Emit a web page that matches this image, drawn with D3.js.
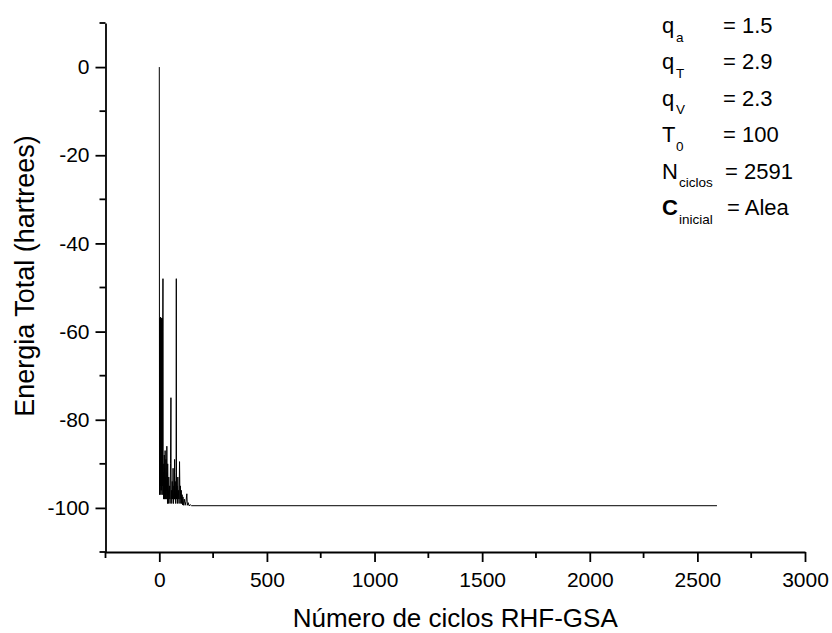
<!DOCTYPE html>
<html>
<head>
<meta charset="utf-8">
<script src="https://cdn.jsdelivr.net/npm/d3@7/dist/d3.min.js"></script>
<style>
  html, body { margin: 0; padding: 0; background: #fff; }
  svg { display: block; font-family: "Liberation Sans", Arial, sans-serif; }
</style>
</head>
<body>
<svg id="chart" width="832" height="633"></svg>
<script>
// Total energy per RHF-GSA cycle
const cycles = [
  0, 1, 2, 3, 4, 5, 6, 7, 8, 9, 10, 11, 12, 13, 14, 15, 16, 17, 18, 19, 20,
  21, 22, 23, 24, 25, 26, 27, 28, 29, 30, 31, 32, 33, 34, 35, 36, 37, 38, 39, 40,
  42, 44, 46, 48, 50, 52, 54, 55, 56, 58, 60, 62, 64, 66, 68, 70, 71, 72, 74, 76,
  78, 79, 80, 82, 84, 86, 88, 90, 92, 94, 96, 98, 100, 102, 104, 106, 108, 110,
  112, 116, 120, 124, 128, 130, 134, 138, 145, 150, 2591
];
const energy = [
  0, -97, -57, -96, -57, -95, -56.7, -97, -57, -94, -57, -96, -58, -97, -57, -95, -60, -48, -97, -92, -98,
  -90, -97, -88, -98, -91, -96, -87, -98, -93, -97, -89, -98, -94, -96, -86, -98, -92, -99, -90, -97,
  -99, -93, -98, -95, -99, -90, -75, -98, -96, -99, -94, -98, -91, -99, -95, -98, -89, -98, -94, -99,
  -92, -48, -98, -95, -99, -93, -98, -96, -99, -89.5, -98, -95, -99, -96, -99, -97, -99.3, -97.5,
  -99.4, -98, -99.4, -98.5, -96.8, -99.4, -98.8, -99.5, -99.3, -99.5, -99.5
];

// Axis ticks
const xMajorTicks = [0, 500, 1000, 1500, 2000, 2500, 3000];
const xMinorTicks = [-250, 250, 750, 1250, 1750, 2250, 2750];
const yMajorTicks = [0, -20, -40, -60, -80, -100];
const yMinorTicks = [10, -10, -30, -50, -70, -90, -110];

// Run parameters shown in the corner
const paramSymbols = ["q", "q", "q", "T", "N", "C"];
const paramSubscripts = ["a", "T", "V", "0", "ciclos", "inicial"];
const paramValues = ["= 1.5", "= 2.9", "= 2.3", "= 100", "= 2591", "= Alea"];

const xLabel = "Número de ciclos RHF-GSA";
const yLabel = "Energia Total (hartrees)";

const svg = d3.select("#chart");
const plot = { left: 105.5, right: 805, top: 23, bottom: 552 };

const x = d3.scaleLinear().domain([-250, 3000]).range([plot.left, plot.right]);
const y = d3.scaleLinear().domain([-110, 10]).range([plot.bottom, plot.top]);

const axisColor = "#000";
const fmt = d => String(d); // plain hyphen-minus for negatives

// X axis: major ticks with labels, minor ticks without
const gx = svg.append("g").attr("transform", `translate(0,${plot.bottom})`);
gx.call(d3.axisBottom(x).tickValues(xMajorTicks).tickSize(10).tickSizeOuter(0).tickFormat(fmt));
gx.selectAll(".tick text").attr("font-size", 21).attr("y", 35).attr("dy", 0)
  .attr("font-family", "Liberation Sans, Arial, sans-serif").attr("fill", "#000");
gx.append("g").attr("class", "minor").selectAll("line").data(xMinorTicks).join("line")
  .attr("x1", d => x(d)).attr("x2", d => x(d)).attr("y1", 0).attr("y2", 6);

const gy = svg.append("g").attr("transform", `translate(${plot.left},0)`);
gy.call(d3.axisLeft(y).tickValues(yMajorTicks).tickSize(10).tickSizeOuter(0).tickFormat(fmt));
gy.selectAll(".tick text").attr("font-size", 21).attr("x", -16)
  .attr("font-family", "Liberation Sans, Arial, sans-serif").attr("fill", "#000");
gy.append("g").attr("class", "minor").selectAll("line").data(yMinorTicks).join("line")
  .attr("y1", d => y(d)).attr("y2", d => y(d)).attr("x1", 0).attr("x2", -6);

svg.selectAll(".domain").attr("stroke", axisColor).attr("stroke-width", 1.8);
svg.selectAll(".tick line, .minor line").attr("stroke", axisColor).attr("stroke-width", 1.8);

// Energy trace
const points = cycles.map((c, i) => [c, energy[i]]);
svg.append("path")
  .datum(points)
  .attr("fill", "none")
  .attr("stroke", "#000")
  .attr("stroke-width", 1)
  .attr("d", d3.line().x(d => x(d[0])).y(d => y(d[1])));

// Axis titles
svg.append("text")
  .attr("x", (plot.left + plot.right) / 2)
  .attr("y", 627)
  .attr("text-anchor", "middle")
  .attr("font-size", 26)
  .text(xLabel);

svg.append("text")
  .attr("transform", `translate(34,276) rotate(-90)`)
  .attr("text-anchor", "middle")
  .attr("font-size", 27)
  .text(yLabel);

// Parameter block
const rowY0 = 33, rowStep = 36.4;
const params = svg.append("g");
paramSymbols.forEach((s, i) => {
  const by = rowY0 + i * rowStep;
  params.append("text")
    .attr("x", 662).attr("y", by)
    .attr("font-size", 22)
    .attr("font-weight", i === 5 ? "bold" : "normal")
    .text(s);
  params.append("text")
    .attr("x", i >= 4 ? 679 : 676).attr("y", by + 8.5)
    .attr("font-size", 13.5)
    .text(paramSubscripts[i]);
  params.append("text")
    .attr("x", i === 4 ? 725 : (i === 5 ? 727 : 723)).attr("y", by)
    .attr("font-size", 22)
    .text(paramValues[i]);
});
</script>
</body>
</html>
